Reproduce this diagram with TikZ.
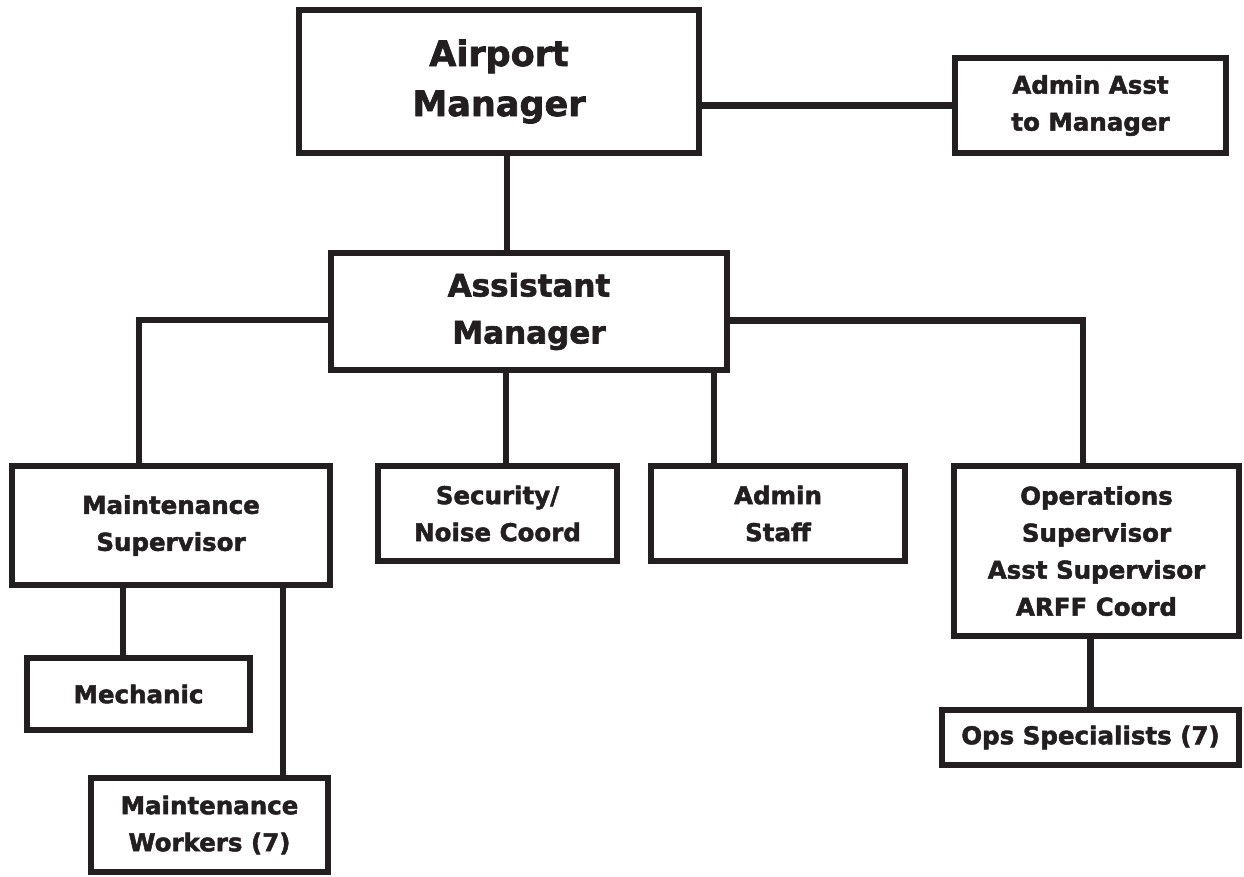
\documentclass[tikz,border=0pt]{standalone}
\usepackage{fontspec}
\setmainfont{DejaVu Sans}[BoldFeatures={FakeBold=2}]
\definecolor{ink}{HTML}{231F20}
\tikzset{
  box/.style={draw=ink, line width=6.5pt, rectangle, inner sep=0pt, align=center, text=ink},
  small/.style={font=\bfseries\fontsize{24.5}{37}\selectfont},
  bigtxt/.style={font=\bfseries\fontsize{35}{50}\selectfont},
  midtxt/.style={font=\bfseries\fontsize{31}{47}\selectfont},
  link/.style={draw=ink, line width=6.5pt}
}
\begin{document}
\begin{tikzpicture}[x=1pt,y=-1pt]
\useasboundingbox (0,0) rectangle (1244,876);
\node[box,bigtxt,minimum width=400pt,minimum height=143pt] (am) at (499,81.5) {Airport\\Manager};
\node[box,small,minimum width=271pt,minimum height=95pt] (aa) at (1090.5,105.5) {Admin Asst\\to Manager};
\node[box,midtxt,minimum width=396pt,minimum height=117pt] (asm) at (529,311.5) {Assistant\\Manager};
\node[box,small,minimum width=318pt,minimum height=119pt] (ms) at (171,525.5) {Maintenance\\Supervisor};
\node[box,small,minimum width=239pt,minimum height=95pt] (sec) at (497.5,513.5) {Security/\\Noise Coord};
\node[box,small,minimum width=254pt,minimum height=95pt] (ast) at (778,513.5) {Admin\\Staff};
\node[box,small,minimum width=285pt,minimum height=170pt] (ops) at (1096.5,551) {Operations\\Supervisor\\Asst Supervisor\\ARFF Coord};
\node[box,small,minimum width=223pt,minimum height=72pt] (mech) at (138.5,694) {Mechanic};
\node[box,small,minimum width=237pt,minimum height=94pt] (mw) at (209.5,825) {Maintenance\\Workers (7)};
\node[box,small,minimum width=297pt,minimum height=55pt] (osp) at (1090.5,737.5) {Ops Specialists (7)};
% connectors
\draw[link] (am.east |- aa.west) -- (aa.west);
\draw[link] ([xshift=8pt]am.south) -- ([xshift=8pt]am.south |- asm.north);
\draw[link] ([yshift=-8.5pt]asm.west) -| ([xshift=-32pt]ms.north);
\draw[link] ([yshift=-9pt]asm.east) -| ([xshift=-13.5pt]ops.north);
\draw[link] ([xshift=8.5pt]sec.north) -- ([xshift=8.5pt]sec.north |- asm.south);
\draw[link] ([xshift=-64pt]ast.north) -- ([xshift=-64pt]ast.north |- asm.south);
\draw[link] ([xshift=-15.5pt]mech.north) -- ([xshift=-15.5pt]mech.north |- ms.south);
\draw[link] ([xshift=73.5pt]mw.north) -- ([xshift=73.5pt]mw.north |- ms.south);
\draw[link] (osp.north |- ops.south) -- (osp.north);
\end{tikzpicture}
\end{document}
